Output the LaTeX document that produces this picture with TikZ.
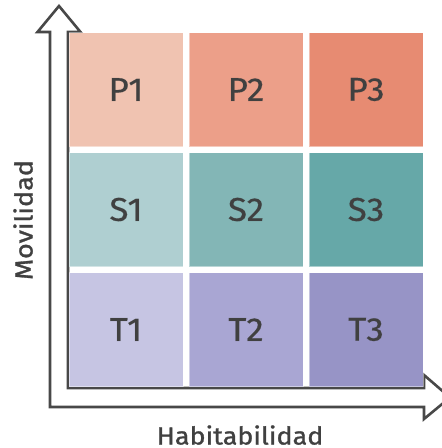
\documentclass[tikz,border=0pt]{standalone}
\usepackage{fontspec}
\setmainfont{Fira Sans}
\newfontfamily\labfont{Fira Sans}[FakeBold=1.6, FakeStretch=1.06]
\newfontfamily\axfont{Fira Sans}[FakeBold=1.2, FakeStretch=1.1]
\definecolor{cP1}{HTML}{F0C3B1}
\definecolor{cP2}{HTML}{EC9F89}
\definecolor{cP3}{HTML}{E78B72}
\definecolor{cS1}{HTML}{AFCFD1}
\definecolor{cS2}{HTML}{83B6B6}
\definecolor{cS3}{HTML}{66A8A8}
\definecolor{cT1}{HTML}{C6C5E3}
\definecolor{cT2}{HTML}{A9A6D3}
\definecolor{cT3}{HTML}{9794C6}
\definecolor{txt}{HTML}{404040}
\definecolor{axis}{HTML}{484848}
\tikzset{
  cell/.style={rectangle, minimum width=114pt, minimum height=114pt, inner sep=0pt,
    text=txt, font=\labfont\fontsize{33}{33}\selectfont, draw=white, draw opacity=0.45, line width=0.8pt},
  axisline/.style={draw=axis, line width=2.6pt, line join=miter, fill=white},
  axlabel/.style={text=txt, font=\axfont\fontsize{24.5}{24.5}\selectfont, inner sep=0pt}
}
\begin{document}
\begin{tikzpicture}[x=1pt,y=-1pt]
\useasboundingbox (0,0) rectangle (442,448);
\begin{scope}
\clip (0,0) rectangle (442,448);
% L-shaped double arrow outline
\path[axisline] (59,6) -- (80.5,32) -- (68,32) -- (68,388) -- (424,388) -- (424,375)
  -- (450,397.5) -- (424,419) -- (424,407) -- (50,407) -- (50,32) -- (37.5,32) -- cycle;
\end{scope}
% cells
\node[cell, fill=cP1] (p1) at (126,89.5) {P1};
\node[cell, fill=cP2] (p2) at (246,89.5) {P2};
\node[cell, fill=cP3] (p3) at (366,89.5) {P3};
\node[cell, fill=cS1] (s1) at (126,209.5) {S1};
\node[cell, fill=cS2] (s2) at (246,209.5) {S2};
\node[cell, fill=cS3] (s3) at (366,209.5) {S3};
\node[cell, fill=cT1] (t1) at (126,329.5) {T1};
\node[cell, fill=cT2] (t2) at (246,329.5) {T2};
\node[cell, fill=cT3] (t3) at (366,329.5) {T3};
% axis labels
\node[axlabel, anchor=base] (hab) at (240,444.5) {Habitabilidad};
\node[axlabel, rotate=90, anchor=base] (mov) at (32.5,220) {Movilidad};
\end{tikzpicture}
\end{document}
